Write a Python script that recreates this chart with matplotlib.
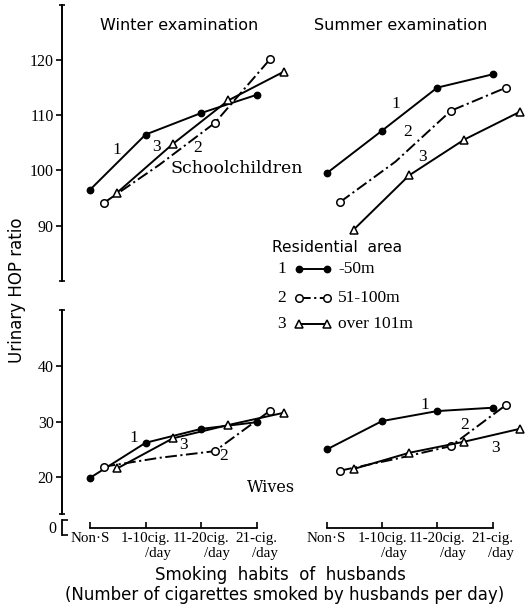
import matplotlib
matplotlib.use("Agg")
import matplotlib.pyplot as plt

plt.rcParams["font.family"] = ["Liberation Serif", "DejaVu Serif"]
SANS = ["DejaVu Sans"]
WIDE_SERIF = ["DejaVu Serif"]

# ---- data -------------------------------------------------------------
categories = ["Non·S", "1-10cig.\n/day", "11-20cig.\n/day", "21-cig.\n/day"]
area_labels = ["-50m", "51-100m", "over 101m"]

winter_school_1 = [96.5, 106.5, 110.4, 113.7]
winter_school_2 = [94.1, 101.0, 108.6, 120.2]
winter_school_3 = [96.0, 104.8, 112.7, 117.9]

summer_school_1 = [99.5, 107.2, 115.0, 117.4]
summer_school_2 = [94.3, 101.6, 110.8, 115.0]
summer_school_3 = [89.3, 99.1, 105.6, 110.6]

winter_wives_1 = [19.9, 26.2, 28.7, 29.9]
winter_wives_2 = [21.9, 23.5, 24.7, 32.0]
winter_wives_3 = [21.6, 27.0, 29.4, 31.6]

summer_wives_1 = [25.0, 30.1, 31.9, 32.5]
summer_wives_2 = [21.2, 23.3, 25.6, 33.0]
summer_wives_3 = [21.5, 24.4, 26.4, 28.7]

# ---- layout helpers (pixel boxes on a 525 x 610 canvas) ---------------
W, H = 525, 610
fig = plt.figure(figsize=(W / 100, H / 100), dpi=100)


def box(x0, y0, x1, y1):
    return [x0 / W, 1 - y1 / H, (x1 - x0) / W, (y1 - y0) / H]


def px(x, y):
    return x / W, 1 - y / H


LW = 1.4
offsets = [0.0, 0.245, 0.49]
styles = [
    dict(color="black", lw=LW, marker="o", ms=4.6, mfc="black", mec="black"),
    dict(color="black", lw=LW, ls=(0, (6, 1.8, 1.1, 1.8)), marker="o", ms=5.4,
         mfc="white", mec="black", mew=1.1, markevery=[0, 2, 3]),
    dict(color="black", lw=LW, marker="^", ms=5.8, mfc="white", mec="black",
         mew=1.1),
]


def draw_series(ax, series):
    for k, vals in enumerate(series):
        xs = [i + offsets[k] for i in range(len(vals))]
        ax.plot(xs, vals, clip_on=False, **styles[k])


def strip(ax):
    for s in ax.spines.values():
        s.set_visible(False)
    ax.set_xticks([])
    ax.set_yticks([])
    ax.patch.set_alpha(0)


# x limits: category 0 at px 90 (left) / 326.7 (right)
XL = (-(90 - 62) / 55.57, (300 - 90) / 55.57)
XR = (-(326.7 - 300) / 55.27, (525 - 326.7) / 55.27)

ax_ul = fig.add_axes(box(62, 4.8, 300, 280.9))
ax_ur = fig.add_axes(box(300, 4.8, 525, 280.9))
ax_ll = fig.add_axes(box(62, 310.3, 300, 513.5))
ax_lr = fig.add_axes(box(300, 310.3, 525, 513.5))

for ax in (ax_ul, ax_ur, ax_ll, ax_lr):
    strip(ax)
for ax in (ax_ul, ax_ur):
    ax.set_ylim(80, 130)
for ax in (ax_ll, ax_lr):
    ax.set_ylim(13.5, 50)
for ax in (ax_ul, ax_ll):
    ax.set_xlim(*XL)
for ax in (ax_ur, ax_lr):
    ax.set_xlim(*XR)

# left value axes
for ax, major, ends in ((ax_ul, [90, 100, 110, 120], [80, 130]),
                        (ax_ll, [20, 30, 40], [13.5, 50])):
    ax.spines["left"].set_visible(True)
    ax.spines["left"].set_linewidth(1.4)
    ax.set_yticks(major)
    ax.set_yticks(ends, minor=True)
    ax.tick_params(axis="y", which="major", direction="out", length=4,
                   width=1.2, labelsize=11.5, pad=2)
    ax.tick_params(axis="y", which="minor", direction="inout", length=5,
                   width=1.2)

# category axes below the wives panels
for ax in (ax_ll, ax_lr):
    sp = ax.spines["bottom"]
    sp.set_visible(True)
    sp.set_linewidth(1.3)
    sp.set_position(("outward", 10.4))
    sp.set_bounds(0, 3)
    ax.set_xticks(range(len(categories)))
    ax.set_xticklabels(categories, multialignment="right")
    ax.tick_params(axis="x", direction="in", length=4, width=1.2,
                   labelsize=10.8, pad=3)

# broken-axis stub carrying the zero
ax_0 = fig.add_axes(box(62, 519.5, 80, 534.5))
strip(ax_0)
ax_0.set_ylim(-1, 1)
ax_0.spines["left"].set_visible(True)
ax_0.spines["left"].set_linewidth(1.3)
ax_0.set_yticks([0])
ax_0.set_yticklabels(["0"])
ax_0.set_yticks([-1, 1], minor=True)
ax_0.tick_params(axis="y", which="major", length=0, labelsize=11.5, pad=4)
ax_0.tick_params(axis="y", which="minor", direction="in", length=4, width=1.2)

# ---- series -----------------------------------------------------------
draw_series(ax_ul, [winter_school_1, winter_school_2, winter_school_3])
draw_series(ax_ur, [summer_school_1, summer_school_2, summer_school_3])
draw_series(ax_ll, [winter_wives_1, winter_wives_2, winter_wives_3])
draw_series(ax_lr, [summer_wives_1, summer_wives_2, summer_wives_3])

# series numbers beside the lines
num_kw = dict(fontsize=12.5, ha="center", va="center")
for ax, pts in (
    (ax_ul, [("1", 0.48, 103.7), ("3", 1.19, 104.3), ("2", 1.94, 104.1)]),
    (ax_ur, [("1", 1.25, 112.0), ("2", 1.47, 107.0), ("3", 1.74, 102.5)]),
    (ax_ll, [("1", 0.78, 27.0), ("3", 1.69, 25.8), ("2", 2.41, 23.8)]),
    (ax_lr, [("1", 1.78, 33.0), ("2", 2.50, 29.4), ("3", 3.05, 25.2)]),
):
    for t, x, y in pts:
        ax.text(x, y, t, **num_kw)

ax_ul.text(1.44, 100.4, "Schoolchildren", family=WIDE_SERIF, fontsize=12.5,
           ha="left", va="center")
ax_ll.text(2.83, 18.2, "Wives", family=WIDE_SERIF, fontsize=11.5,
           ha="left", va="center")

# ---- titles and axis captions -----------------------------------------
fig.text(*px(179, 25), "Winter examination", family=SANS, fontsize=11.5,
         ha="center", va="center")
fig.text(*px(401, 25), "Summer examination", family=SANS, fontsize=11.5,
         ha="center", va="center")
fig.text(*px(17, 290), "Urinary HOP ratio", family=SANS, fontsize=12,
         rotation=90, ha="center", va="center")
fig.text(*px(280, 575), "Smoking  habits  of  husbands", family=SANS,
         fontsize=12, ha="center", va="center")
fig.text(*px(285, 595), "(Number of cigarettes smoked by husbands per day)",
         family=SANS, fontsize=12, ha="center", va="center")

# ---- legend -----------------------------------------------------------
fig.text(*px(272, 247), "Residential  area", family=SANS, fontsize=11.2,
         ha="left", va="center")
leg_ax = fig.add_axes([0, 0, 1, 1])
strip(leg_ax)
leg_ax.set_xlim(0, W)
leg_ax.set_ylim(H, 0)
for k, (lab, y) in enumerate(zip(area_labels, [269, 297.5, 323.5])):
    leg_ax.text(282, y, str(k + 1), fontsize=12.5, ha="center", va="center")
    st = dict(styles[k])
    st.pop("markevery", None)
    leg_ax.plot([299, 327], [y, y], **st)
    leg_ax.text(338, y, lab, fontsize=12.5, ha="left", va="center")

fig.savefig("out.png", dpi=100)
